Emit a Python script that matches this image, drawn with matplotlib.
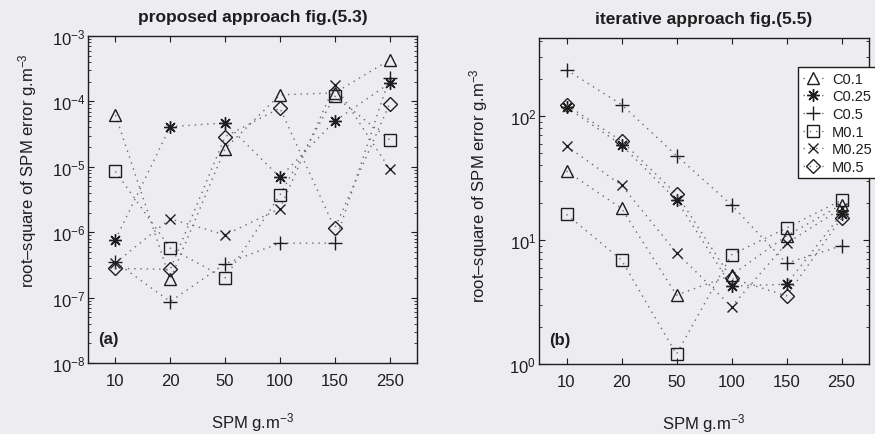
import numpy as np
import matplotlib.pyplot as plt
from matplotlib.ticker import LogLocator, NullFormatter

plt.rcParams['font.family'] = ['Liberation Sans', 'DejaVu Sans']
plt.rcParams['mathtext.fontset'] = 'custom'
plt.rcParams['mathtext.rm'] = 'Liberation Sans'
plt.rcParams['mathtext.default'] = 'regular'

# SPM concentrations on the x axis
spm_labels = ['10', '20', '50', '100', '150', '250']
series_names = ['C0.1', 'C0.25', 'C0.5', 'M0.1', 'M0.25', 'M0.5']

# proposed approach, fig.(5.3)
prop_c01 = [6.2e-5, 1.9e-7, 1.9e-5, 1.26e-4, 1.35e-4, 4.3e-4]
prop_c025 = [7.7e-7, 4.1e-5, 4.7e-5, 6.9e-6, 5.0e-5, 1.9e-4]
prop_c05 = [3.5e-7, 8.7e-8, 3.3e-7, 6.8e-7, 6.8e-7, 2.3e-4]
prop_m01 = [8.5e-6, 5.7e-7, 2.0e-7, 3.7e-6, 1.2e-4, 2.6e-5]
prop_m025 = [3.4e-7, 1.6e-6, 9.1e-7, 2.3e-6, 1.78e-4, 9.3e-6]
prop_m05 = [2.8e-7, 2.7e-7, 2.9e-5, 7.9e-5, 1.15e-6, 9.1e-5]

# iterative approach, fig.(5.5)
iter_c01 = [36, 18, 3.6, 5.2, 10.8, 19.3]
iter_c025 = [118, 58.5, 21, 4.25, 4.4, 16.2]
iter_c05 = [236, 124, 48, 19.2, 6.5, 9.0]
iter_m01 = [16.1, 6.9, 1.2, 7.6, 12.5, 21]
iter_m025 = [57.5, 27.7, 7.9, 2.9, 9.4, 18]
iter_m05 = [123, 63, 23.5, 4.9, 3.55, 15]

proposed = [prop_c01, prop_c025, prop_c05, prop_m01, prop_m025, prop_m05]
iterative = [iter_c01, iter_c025, iter_c05, iter_m01, iter_m025, iter_m05]

markers = ['^', (8, 2, 0), '+', 's', 'x', 'D']
msizes = [9, 9, 10, 8, 7, 7]

bg = '#ededf1'
ink = '#1e1e1e'

fig = plt.figure(figsize=(8.75, 4.35), dpi=100, facecolor=bg)
ax_a = fig.add_axes([88/875, 1-364/435, 329/875, 327/435])
ax_b = fig.add_axes([539/875, 1-365/435, 330/875, 326/435])

x = np.arange(1, len(spm_labels) + 1)


def draw_panel(ax, data, ylim, ylab_y):
    ax.set_facecolor(bg)
    for vals, mk, ms, name in zip(data, markers, msizes, series_names):
        ax.plot(x, vals, linestyle=(0, (1, 3.5)), linewidth=1.0, color='#6a6a6a',
                marker=mk, markersize=ms, markerfacecolor='none',
                markeredgecolor=ink, markeredgewidth=1.0, label=name)
    ax.set_yscale('log')
    ax.set_ylim(*ylim)
    ax.set_xlim(0.5, 6.5)
    ax.set_xticks(x)
    ax.set_xticklabels(spm_labels)
    ax.yaxis.set_major_locator(LogLocator(base=10))
    ax.yaxis.set_minor_locator(LogLocator(base=10, subs=np.arange(2, 10)))
    ax.yaxis.set_minor_formatter(NullFormatter())
    ax.tick_params(which='both', direction='in', top=True, right=True,
                   color=ink, labelcolor=ink, labelsize=12)
    ax.tick_params(which='major', length=4)
    ax.tick_params(which='minor', length=2)
    ax.tick_params(axis='x', pad=7)
    ax.tick_params(axis='y', pad=2)
    for sp in ax.spines.values():
        sp.set_color(ink)
        sp.set_linewidth(1.0)
    ax.set_xlabel('SPM g.m$^{-3}$', fontsize=12, color=ink)
    ax.xaxis.set_label_coords(0.5, -0.145)
    ax.set_ylabel('root\u2013square of SPM error g.m$^{-3}$', fontsize=12, color=ink)
    ax.yaxis.set_label_coords(-0.15, ylab_y)


draw_panel(ax_a, proposed, (1e-8, 1e-3), 0.59)
draw_panel(ax_b, iterative, (1, 10**2.63), 0.55)

ax_a.set_title('proposed approach fig.(5.3)', fontsize=12.5, fontweight='bold',
               color=ink, pad=11)
ax_b.set_title('iterative approach fig.(5.5)', fontsize=12.5, fontweight='bold',
               color=ink, pad=11)

ax_a.text(0.03, 0.06, '(a)', transform=ax_a.transAxes, fontsize=12,
          fontweight='bold', color=ink)
ax_b.text(0.03, 0.06, '(b)', transform=ax_b.transAxes, fontsize=12,
          fontweight='bold', color=ink)

leg = ax_b.legend(loc='upper left', bbox_to_anchor=(791/875, 1-61/435),
                  bbox_transform=fig.transFigure, fontsize=10.5,
                  handlelength=1.4, handletextpad=0.6, labelspacing=0.25,
                  borderpad=0.3, fancybox=False, framealpha=1.0,
                  edgecolor=ink, facecolor='white')
leg.get_frame().set_linewidth(1.0)
for t in leg.get_texts():
    t.set_color(ink)

fig.savefig('out.png', dpi=100, facecolor=bg)
